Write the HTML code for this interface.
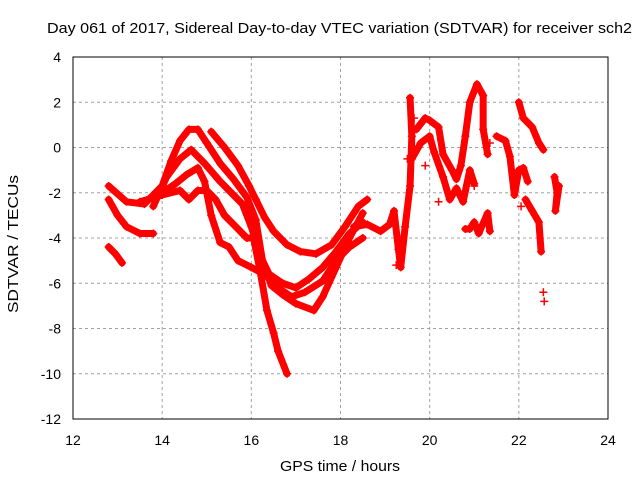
<!DOCTYPE html>
<html><head><meta charset="utf-8"><style>
body{margin:0;background:#fff}
svg{display:block;font-family:"Liberation Sans",sans-serif}
</style></head><body>
<svg id="chart" width="640" height="480" xmlns="http://www.w3.org/2000/svg">
<rect width="640" height="480" fill="#fff"/>
<text x="47" y="33" font-size="15" textLength="585" lengthAdjust="spacingAndGlyphs">Day 061 of 2017, Sidereal Day-to-day VTEC variation (SDTVAR) for receiver sch2</text>
<text x="280" y="471" font-size="15" textLength="120" lengthAdjust="spacingAndGlyphs">GPS time / hours</text>
<text transform="translate(18,313) rotate(-90)" font-size="15" textLength="138" lengthAdjust="spacingAndGlyphs">SDTVAR / TECUs</text>
<g id="grid"></g><g id="ticks"></g><g id="marks"></g>
<rect x="73" y="57" width="535" height="362" fill="none" stroke="#000" stroke-width="1"/>
</svg>
<script>
const xTicks=[12,14,16,18,20,22,24];
const yTicks=[4,2,0,-2,-4,-6,-8,-10,-12];
const track1=[[12.8,-1.7],[13.2,-2.4],[13.6,-2.5],[14.0,-1.7],[14.2,-0.6],[14.4,0.3],[14.6,0.8],[14.8,0.8],[15.0,0.2],[15.3,-0.7],[15.6,-1.4],[15.9,-2.2],[16.1,-3.2],[16.25,-5.0],[16.45,-6.1],[16.7,-6.5],[17.0,-6.9],[17.4,-7.2],[17.6,-6.6],[17.9,-5.3],[18.2,-4.0],[18.5,-2.9]];
const track2=[[15.1,0.7],[15.4,0.0],[15.7,-0.8],[15.95,-1.7],[16.1,-2.3],[16.3,-3.1],[16.5,-3.7],[16.8,-4.3],[17.1,-4.6],[17.45,-4.7],[17.8,-4.3],[18.1,-3.5],[18.4,-2.6],[18.6,-2.3]];
const track3=[[13.8,-2.6],[14.1,-1.3],[14.4,-0.5],[14.65,-0.1],[14.95,-0.7],[15.3,-1.5],[15.6,-2.1],[15.8,-2.5],[16.0,-3.5],[16.2,-4.8],[16.4,-5.6],[16.7,-6.0],[17.0,-6.2],[17.3,-5.8],[17.6,-5.3],[17.9,-4.6],[18.2,-3.8],[18.5,-3.3]];
const track4=[[14.0,-2.0],[14.3,-1.6],[14.55,-1.2],[14.8,-0.9],[14.95,-1.5],[15.1,-3.0],[15.3,-4.2],[15.5,-4.4],[15.7,-5.0],[16.0,-5.3],[16.3,-5.6],[16.6,-6.2],[16.9,-6.6],[17.2,-6.4],[17.6,-5.9],[17.9,-5.0],[18.2,-4.4],[18.5,-4.0]];
const track5=[[13.5,-2.4],[14.0,-2.1],[14.4,-1.9],[14.6,-2.3],[14.8,-1.9],[15.0,-1.9],[15.2,-2.3],[15.4,-3.0],[15.7,-3.6],[15.9,-4.0],[16.05,-4.0],[16.2,-5.5],[16.35,-7.2],[16.5,-8.2],[16.6,-9.0],[16.8,-10.0]];
const track6=[[12.8,-2.3],[13.0,-3.0],[13.2,-3.5],[13.5,-3.8],[13.8,-3.8]];
const track7=[[12.8,-4.4],[12.95,-4.7],[13.1,-5.1]];
const track8=[[18.3,-3.5],[18.6,-3.4],[18.9,-3.7],[19.1,-3.4],[19.2,-2.8],[19.3,-4.5],[19.35,-5.3],[19.45,-3.5],[19.56,-1.7],[19.6,0.5],[19.56,2.2]];
const track9=[[19.7,0.8],[19.9,1.3],[20.0,1.2],[20.2,0.9],[20.3,-0.3],[20.5,-1.0],[20.6,-1.4],[20.7,-0.8],[20.8,0.5],[20.9,2.0],[21.06,2.8],[21.2,2.3],[21.2,0.8],[21.3,-0.3]];
const track9b=[[19.6,-0.5],[19.8,0.2],[20.0,0.5],[20.1,-0.2],[20.3,-1.3],[20.45,-2.3],[20.6,-1.8],[20.75,-2.4],[20.9,-1.0],[21.0,-1.6]];
const track10=[[20.8,-3.6],[20.9,-3.6],[21.0,-3.3],[21.1,-3.8],[21.3,-2.9],[21.35,-3.7]];
const track11=[[21.5,0.5],[21.7,0.3],[21.8,-0.4],[21.9,-2.1],[22.0,-1.0],[22.1,-0.9],[22.2,-1.5]];
const track12=[[22.0,2.0],[22.1,1.3],[22.3,0.9],[22.45,0.2],[22.55,-0.1]];
const track13=[[22.15,-2.3],[22.3,-2.8],[22.45,-3.3],[22.5,-4.6]];
const track14=[[22.8,-1.3],[22.86,-2.0],[22.82,-2.8],[22.9,-1.7]];
const strayPts=[[22.55,-6.4],[22.57,-6.8],[19.25,-5.2],[20.2,-2.4],[19.9,-0.8],[21.0,-1.7],[19.5,-0.5],[19.65,1.3],[21.35,0.2],[22.05,-2.6]];
const NS="http://www.w3.org/2000/svg";
const X=h=>73+(h-12)*535/12, Y=v=>57+(4-v)*362/16;
const grid=document.getElementById('grid'),ticks=document.getElementById('ticks'),marks=document.getElementById('marks');
function mk(tag,attrs,parent){const e=document.createElementNS(NS,tag);for(const k in attrs)e.setAttribute(k,attrs[k]);parent.appendChild(e);return e;}
xTicks.forEach(t=>{
 if(t>12&&t<24){const g=mk('line',{x1:X(t),x2:X(t),y1:57,y2:419,stroke:'#a0a0a0','stroke-dasharray':'3,3'},grid);
 
 }
 const l=mk('text',{x:X(t),y:445,'font-size':14,'text-anchor':'middle'},ticks);l.textContent=t;
 
 
});
yTicks.forEach(t=>{
 if(t>-12&&t<4){const g=mk('line',{x1:73,x2:608,y1:Y(t),y2:Y(t),stroke:'#a0a0a0','stroke-dasharray':'3,3'},grid);
 
 }
 const l=mk('text',{x:61,y:Y(t)+5,'font-size':14,'text-anchor':'end'},ticks);l.textContent=t;
 
 
});
const tracks=[track1,track2,track3,track4,track5,track6,track7,track8,track9,track9b,track10,track11,track12,track13,track14];
tracks.forEach((tr,i)=>{
 const p=mk('polyline',{points:tr.map(d=>X(d[0])+','+Y(d[1])).join(' '),fill:'none',stroke:'#ff0000','stroke-width':7,'stroke-linejoin':'round','stroke-linecap':'round'},marks);
 
 
 tr.forEach(d=>{
  const m=mk('path',{d:`M${X(d[0])-4},${Y(d[1])}h8M${X(d[0])},${Y(d[1])-4}v8`,stroke:'#ff0000','stroke-width':1.5},marks);
  
  
 });
});
strayPts.forEach(d=>{
 const m=mk('path',{d:`M${X(d[0])-4},${Y(d[1])}h8M${X(d[0])},${Y(d[1])-4}v8`,stroke:'#ff0000','stroke-width':1.5},marks);
 
 
});
</script>
</body></html>
